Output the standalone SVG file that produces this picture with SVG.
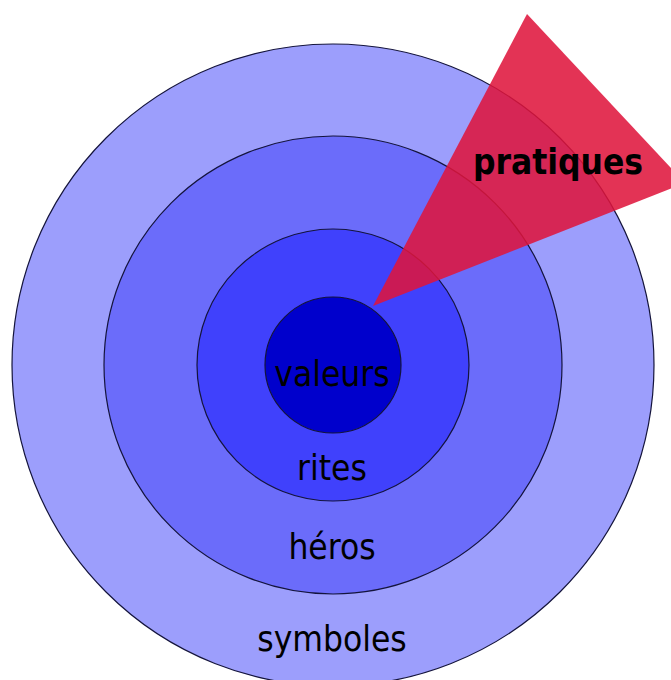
<svg xmlns="http://www.w3.org/2000/svg" width="671" height="680" viewBox="0 0 671 680">
<style>
.ring{stroke:#14143c;stroke-width:1.2}
.lbl{font-family:"DejaVu Sans Condensed","DejaVu Sans",sans-serif;font-stretch:condensed;font-size:35px;fill:#000;text-anchor:middle}
</style>
<rect width="671" height="680" fill="#ffffff"/>
<g id="symboles">
<circle class="ring" cx="333" cy="365" r="321" fill="#9c9efc"/>
<text class="lbl" x="332" y="651">symboles</text>
</g>
<g id="heros">
<circle class="ring" cx="333" cy="365" r="229" fill="#6b6cfa"/>
<text class="lbl" x="332" y="559">héros</text>
</g>
<g id="rites">
<circle class="ring" cx="333" cy="365" r="136" fill="#4041fc"/>
<text class="lbl" x="332" y="480">rites</text>
</g>
<g id="valeurs">
<circle class="ring" cx="333" cy="365" r="68" fill="#0000cc"/>
<text class="lbl" x="332" y="386">valeurs</text>
</g>
<g id="pratiques">
<polygon points="373,306 527,14 685,183" fill="#df153c" fill-opacity="0.87"/>
<text class="lbl" x="558" y="174" font-weight="bold">pratiques</text>
</g>
</svg>
